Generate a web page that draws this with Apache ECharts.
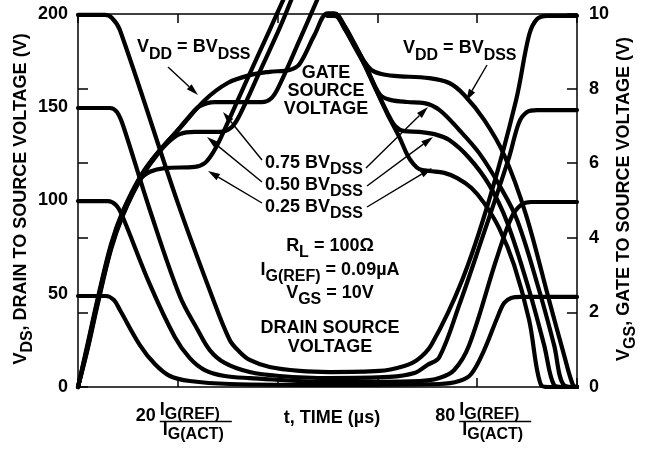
<!DOCTYPE html>
<html>
<head>
<meta charset="utf-8">
<script src="https://cdn.jsdelivr.net/npm/echarts@6/dist/echarts.min.js"></script>
<style>
  html, body { margin: 0; padding: 0; background: #fff; }
  #chart { width: 655px; height: 450px; }
</style>
</head>
<body>
<div id="chart"></div>
<script>
// drain to source voltage (V) against normalised time, one curve per VDD
const vds200 = [[0,199.5],[5.4,199.5],[6.8,197.9],[8.4,191.4],[20,98.7],[26.6,50.4],[30.4,25.2],[32.4,18.8],[34.4,14.5],[38.4,10.7],[44.4,8.6],[50.4,8.0],[60.4,8.6],[65.4,11.3],[68,14.5],[70.8,22.5],[77,57.4],[82.4,100.3],[87.8,153.9],[90.4,188.7],[92,197.3],[94,199],[100,199]];
const vds150 = [[0,149.6],[6.4,149.6],[7.8,147.5],[9,140.5],[14.4,94.9],[20.4,48.8],[24,30.6],[26.4,19.8],[29.4,12.9],[34.4,8.0],[40.4,5.9],[50.4,4.8],[62.4,5.4],[67.4,7.5],[70,11.8],[72.4,16],[76.4,44],[80.4,75.1],[86.4,123.3],[88.4,142],[90,147.5],[92,148.5],[100,148.5]];
const vds100 = [[0,99.7],[6,99.7],[7.6,97.6],[8.8,92.2],[14.4,55],[19.4,26.8],[22.4,15.5],[25.4,9.1],[29.4,5.9],[34.4,4.8],[50.4,2.7],[68.4,3.2],[72.4,4.8],[75.4,9.1],[78.4,22.5],[83.8,68.1],[86.8,90.6],[88.8,97.6],[90.8,99.2],[100,99.2]];
const vds50 = [[0,48.8],[5.6,48.8],[7.2,46.6],[8.4,41.3],[12.4,22.5],[15.4,12.3],[18.4,5.9],[22.4,3.2],[30.4,1.6],[50.4,1.1],[72.4,1.6],[76.4,3.2],[78.8,7],[81.4,19.8],[84,37],[85.4,45],[86.8,47.7],[88.8,48.3],[100,48.3]];

// gate to source voltage (V); '-' breaks a curve where it runs off the top
const vgsFull = [[0,0],[2,1.2],[4,2.4],[6.6,3.82],[9,4.72],[12.6,5.67],[16,6.29],[20.6,6.97],[25.4,7.69],[30,8.15],[34.4,8.36],[38.4,8.45],[42.4,8.5],[44.4,8.66],[47.4,9.44],[50,10.02],[51.4,10.02],[53.4,9.69],[55.4,9.21],[57.4,8.72],[58.8,8.5],[60.8,8.39],[63.4,8.34],[70.4,8.28],[74.4,8.15],[77.4,7.83],[81.4,7.16],[85.4,6.22],[89.8,4.61],[94.4,2.33],[97.4,0.86],[99.2,0.05],[100,0]];
const vgs075 = [[0,0],[2,1.15],[4,2.35],[6.6,3.77],[9,4.68],[12.6,5.64],[16,6.27],[20.4,6.95],[22.4,7.27],[24.4,7.53],[27.4,7.64],[36.8,7.64],[38.8,7.75],[40.4,8.1],[44.4,9.3],[48,10.4],[48.5,'-'],[49.9,9.99],[51.5,9.99],[53.4,9.66],[55.4,9.18],[57.4,8.69],[59.4,8.1],[60.8,7.8],[62.8,7.69],[66,7.64],[69.4,7.61],[72.4,7.43],[76.4,6.89],[80.4,6.27],[84.4,5.42],[88,4.48],[92.4,2.6],[95.4,1.13],[97.4,0.05],[100,0]];
const vgs050 = [[0,0],[2,1.1],[4,2.3],[6.6,3.72],[9,4.63],[12.6,5.61],[16,6.25],[18,6.55],[20.4,6.78],[23.4,6.84],[28.4,6.84],[30.8,6.97],[32.4,7.29],[36.4,8.45],[40.4,9.62],[42.8,10.4],[43.2,'-'],[49.9,9.97],[51.5,9.97],[53.4,9.63],[55.4,9.15],[57.4,8.66],[59.4,8.08],[62,7.35],[63.6,6.99],[65.4,6.86],[68.4,6.84],[71.4,6.78],[74.4,6.62],[78.4,6.14],[82.4,5.42],[86,4.42],[90.4,2.6],[93.4,1.13],[95.4,0.05],[97,0],[100,0]];
const vgs025 = [[0,0],[2,1.05],[4,2.25],[6.6,3.68],[9,4.6],[12.6,5.58],[14.4,5.77],[17.4,5.87],[23.4,5.9],[25.4,6.0],[27,6.27],[28.4,6.62],[33.4,8.1],[38.4,9.57],[41.2,10.4],[41.6,'-'],[49.9,9.95],[51.5,9.95],[53.4,9.61],[55.4,9.13],[57.4,8.64],[59.4,8.06],[62,7.32],[64.4,6.7],[66,6.22],[67.2,5.98],[68.4,5.84],[70.4,5.79],[73.4,5.74],[76,5.6],[78.8,5.34],[81.4,4.93],[84.4,4.26],[87.4,3.27],[90.4,1.8],[92.8,0.05],[94.4,0],[100,0]];

const vdsTicks = { min: 0, max: 200, step: 50 };
const vgsTicks = { min: 0, max: 10, step: 2 };
const timeTicks = { min: 0, max: 100, step: 20 };
const timeMarks = [20, 80];

const FONT = '"Liberation Sans", Arial, Helvetica, sans-serif';
const black = '#000';

// m = normal, s = subscript, f = subscript inside the time fractions
const rich = {
  m: { fontSize: 18, fontWeight: 'bold', fontFamily: FONT, fill: black, verticalAlign: 'middle' },
  s: { fontSize: 16, fontWeight: 'bold', fontFamily: FONT, fill: black, verticalAlign: 'middle', padding: [14, 0, 0, 0] },
  f: { fontSize: 16, fontWeight: 'bold', fontFamily: FONT, fill: black, verticalAlign: 'middle', padding: [9, 0, 0, 0] }
};

const chart = echarts.init(document.getElementById('chart'));

const frame = { show: true, onZero: false, lineStyle: { color: black, width: 1.5 } };
const innerTick = len => ({ show: true, inside: true, length: len, lineStyle: { color: black, width: 1.5 } });
const tickFont = { color: black, fontSize: 18, fontWeight: 'bold', fontFamily: FONT };

const curve = (data, yAxisIndex) => ({
  type: 'line',
  data,
  yAxisIndex,
  symbol: 'none',
  smooth: 0.35,
  connectNulls: false,
  clip: yAxisIndex === 0,
  silent: true,
  lineStyle: { color: black, width: 4.2, cap: 'round', join: 'round' }
});

chart.setOption({
  animation: false,
  backgroundColor: '#fff',
  grid: { left: 78, right: 78, top: 14, bottom: 63 },
  xAxis: [
    { type: 'value', position: 'bottom', min: timeTicks.min, max: timeTicks.max, interval: timeTicks.step,
      axisLine: frame, axisTick: innerTick(9), axisLabel: { show: false }, splitLine: { show: false } },
    { type: 'value', position: 'top', min: timeTicks.min, max: timeTicks.max, interval: timeTicks.step,
      axisLine: frame, axisTick: innerTick(9), axisLabel: { show: false }, splitLine: { show: false } }
  ],
  yAxis: [
    { type: 'value', position: 'left', min: vdsTicks.min, max: vdsTicks.max, interval: vdsTicks.step,
      axisLine: frame, axisTick: { show: false }, axisLabel: { ...tickFont, margin: 10 }, splitLine: { show: false } },
    { type: 'value', position: 'right', min: vgsTicks.min, max: vgsTicks.max, interval: vgsTicks.step,
      axisLine: frame, axisTick: innerTick(10), axisLabel: { ...tickFont, margin: 12 }, splitLine: { show: false } },
    // gate scale ticks repeated on the left edge
    { type: 'value', position: 'left', min: vgsTicks.min, max: vgsTicks.max, interval: vgsTicks.step,
      axisLine: { show: false }, axisTick: innerTick(10), axisLabel: { show: false }, splitLine: { show: false } }
  ],
  series: [
    curve(vds200, 0), curve(vds150, 0), curve(vds100, 0), curve(vds50, 0),
    curve(vgsFull, 1), curve(vgs075, 1), curve(vgs050, 1), curve(vgs025, 1)
  ]
});

const txt = (x, y, text, align, extra) => Object.assign({
  type: 'text', x, y, z: 10,
  style: { text, rich, fill: black, align: align || 'left', verticalAlign: 'middle' }
}, extra || {});

function arrow(tail, tip) {
  const [x1, y1] = tail, [x2, y2] = tip;
  const a = Math.atan2(y2 - y1, x2 - x1);
  const len = 12, half = 3.5;
  const bx = x2 - len * Math.cos(a), by = y2 - len * Math.sin(a);
  const nx = -Math.sin(a) * half, ny = Math.cos(a) * half;
  return [
    { type: 'line', z: 10, shape: { x1, y1, x2: bx, y2: by }, style: { stroke: black, lineWidth: 1.4 } },
    { type: 'polygon', z: 10, shape: { points: [[x2, y2], [bx + nx, by + ny], [bx - nx, by - ny]] }, style: { fill: black } }
  ];
}

const graphics = [
  txt(21, 199, '{m|V}{s|DS}{m|, DRAIN TO SOURCE VOLTAGE (V)}', 'center', { rotation: Math.PI / 2 }),
  txt(624, 199, '{m|V}{s|GS}{m|, GATE TO SOURCE VOLTAGE (V)}', 'center', { rotation: Math.PI / 2 }),

  txt(137, 47.5, '{m|V}{s|DD}{m| = BV}{s|DSS}'),
  txt(403, 48.5, '{m|V}{s|DD}{m| = BV}{s|DSS}'),
  txt(326, 73, '{m|GATE}', 'center'),
  txt(326, 91, '{m|SOURCE}', 'center'),
  txt(326, 109, '{m|VOLTAGE}', 'center'),
  txt(265, 163, '{m|0.75 BV}{s|DSS}'),
  txt(265, 185, '{m|0.50 BV}{s|DSS}'),
  txt(265, 207, '{m|0.25 BV}{s|DSS}'),

  txt(330, 246, '{m|R}{s|L}{m| = 100Ω}', 'center'),
  txt(330, 270, '{m|I}{s|G(REF)}{m| = 0.09µA}', 'center'),
  txt(330, 293, '{m|V}{s|GS}{m| = 10V}', 'center'),
  txt(330, 328, '{m|DRAIN SOURCE}', 'center'),
  txt(330, 347, '{m|VOLTAGE}', 'center'),

  txt(332, 418, '{m|t, TIME (µs)}', 'center'),

  ...arrow([168, 67], [198, 95]),
  ...arrow([262, 160], [223, 112]),
  ...arrow([262, 182], [207, 137]),
  ...arrow([262, 203], [208, 171]),
  ...arrow([487, 65], [466, 101]),
  ...arrow([366, 168], [428, 107]),
  ...arrow([367, 186], [433, 137]),
  ...arrow([367, 207], [432, 168])
];

// "20 IG(REF)/IG(ACT)" style labels under the two marked time ticks
timeMarks.forEach(t => {
  const px = chart.convertToPixel({ xAxisIndex: 0 }, t);
  graphics.push({
    type: 'group', x: px, y: 0, z: 10,
    children: [
      txt(-22, 416, '{m|' + t + '}', 'right'),
      txt(-18, 410, '{m|I}{f|G(REF)}'),
      { type: 'line', z: 10, shape: { x1: -18, y1: 421.5, x2: 54, y2: 421.5 }, style: { stroke: black, lineWidth: 1.5 } },
      txt(-15, 430, '{m|I}{f|G(ACT)}')
    ]
  });
});

chart.setOption({ graphic: graphics });
</script>
</body>
</html>
